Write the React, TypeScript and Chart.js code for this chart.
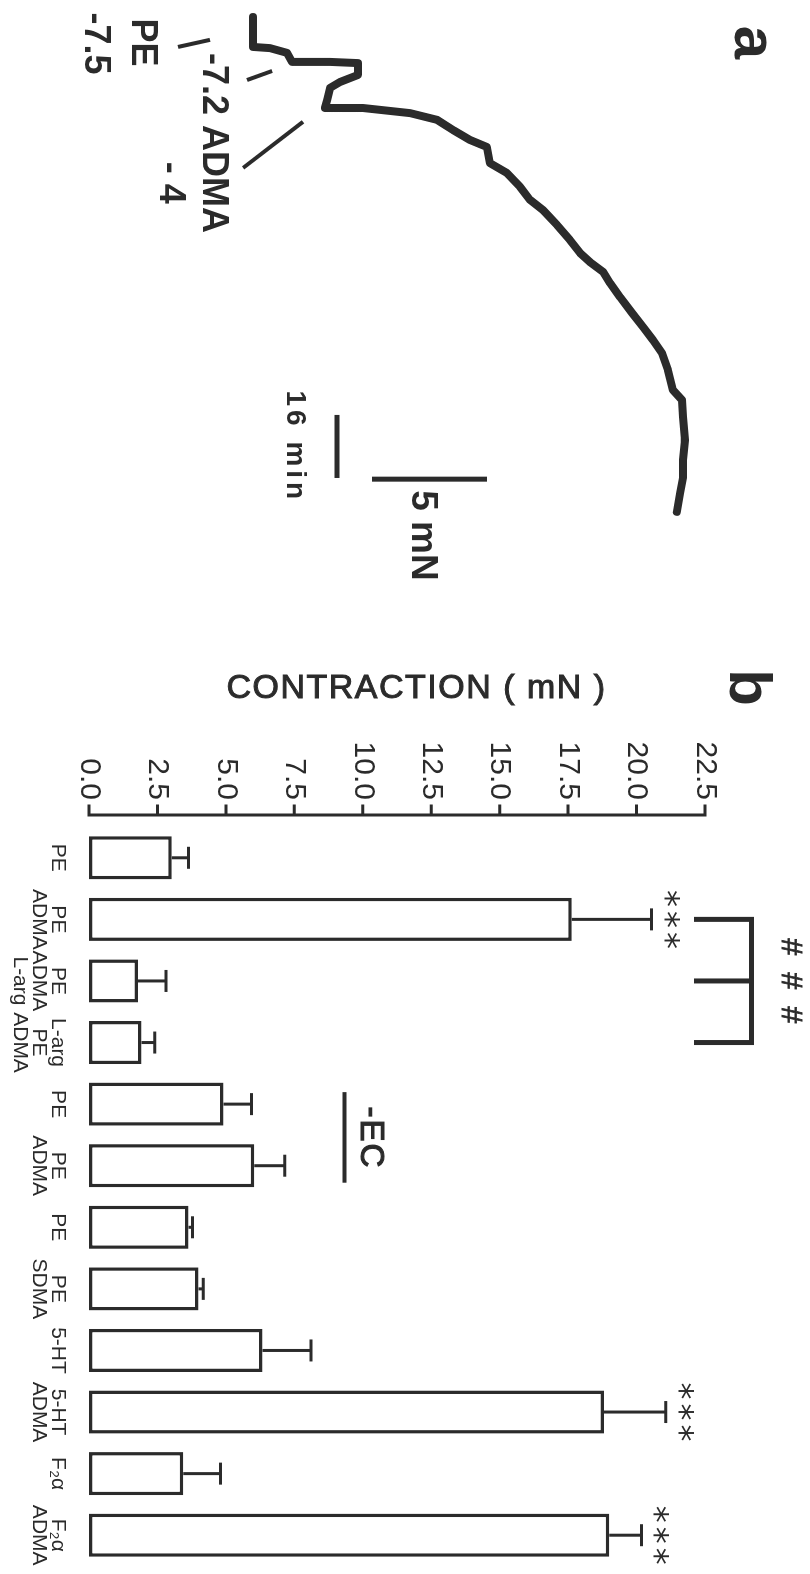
import React, { useEffect, useRef } from "react";
import { Chart, registerables } from "chart.js";

Chart.register(...registerables);

const FONT = "'Liberation Sans', Arial, Helvetica, sans-serif";
const INK = "#2b2b2b";

// ---------------- Panel a : isometric tension trace ----------------
// time in minutes, tension in mN (relative to resting baseline)
const traceMinutes = [
  0, 7.6, 7.9, 9.1, 11.4, 11.4, 11.7, 14.7, 16.5, 18.0,
  21.1, 23.1, 23.1, 24.4, 26.1, 28.7, 31.2, 33.0, 37.1, 39.6,
  43.1, 46.4, 49.0, 52.8, 56.6, 59.9, 62.2, 64.7, 67.5, 71.1,
  75.1, 78.7, 82.0, 85.3, 89.6, 94.7, 97.2, 101.5, 107.4, 112.4,
  116.8, 120.8, 125.6,
];
const traceTension = [
  0, 0, 0.74, 1.48, 1.7, 3.35, 4.57, 4.57, 3.78, 3.35,
  3.22, 3.13, 4.78, 6.83, 8.0, 8.7, 9.43, 10.17, 10.3, 11.04,
  11.61, 12.04, 12.61, 13.22, 13.78, 14.22, 14.65, 15.22, 15.52, 15.96,
  16.48, 16.96, 17.39, 17.78, 18.04, 18.26, 18.65, 18.7, 18.78, 18.7,
  18.7, 18.57, 18.43,
];
const timeBar = { start: 101.0, minutes: 16, level: 3.65 };
const forceBar = { at: 117.3, start: 5.17, mN: 5 };
const traceAxisX = { min: -4.315, max: 147.97 };
const traceAxisY = { min: -11.0, max: 24.217 };

// annotation labels of panel a (t = minutes, f = mN, at text baseline)
const panelATexts = [
  { text: "a", t: 6.47, f: 20.96, size: 60, align: "center", spacing: 0 },
  { text: "PE", t: 6.47, f: -5.26, size: 36, align: "center", spacing: 0 },
  { text: "-7.5", t: 6.73, f: -7.3, size: 36, align: "center", spacing: 0 },
  { text: "-7.2 ADMA", t: 9.14, f: -2.17, size: 36, align: "left", spacing: 0 },
  { text: "- 4", t: 42.1, f: -4.04, size: 36, align: "center", spacing: 0 },
  { text: "16 min", t: 109.1, f: 1.48, size: 28, align: "center", spacing: 4 },
  { text: "5 mN", t: 120.1, f: 6.91, size: 37, align: "left", spacing: 0 },
];
const panelAPointers = [
  [[7.6, -3.26], [5.8, -1.87]],
  [[16.0, -0.26], [13.7, 0.83]],
  [[38.3, -0.43], [26.6, 2.17]],
];

// ---------------- Panel b : bar chart ----------------
const groupLabels = [
  ["PE"],
  ["PE", "ADMA"],
  ["PE", "ADMA", "L-arg"],
  ["L-arg", "PE", "ADMA"],
  ["PE"],
  ["PE", "ADMA"],
  ["PE"],
  ["PE", "SDMA"],
  ["5-HT"],
  ["5-HT", "ADMA"],
  ["F₂α"],
  ["F₂α", "ADMA"],
];
const meanContraction = [3.02, 17.63, 1.79, 1.92, 4.91, 6.04, 3.63, 4.0, 6.34, 18.81, 3.44, 19.0];
const semContraction = [0.61, 2.92, 1.02, 0.48, 1.03, 1.11, 0.15, 0.17, 1.77, 2.26, 1.36, 1.18];
const vsControl = ["", "***", "", "", "", "", "", "", "", "***", "", "***"];
const yMax = 22.5;
const yStep = 2.5;
const hashGroup = [1, 2, 3]; // ### bracket
const ecGroup = [4, 5]; // -EC (endothelium removed)

function fillCentered(ctx: CanvasRenderingContext2D, text: string, cx: number, cy: number, stroke = 0) {
  ctx.textAlign = "center";
  ctx.textBaseline = "alphabetic";
  const m = ctx.measureText(text);
  const asc = m.actualBoundingBoxAscent;
  const desc = m.actualBoundingBoxDescent;
  const by = cy + (asc - desc) / 2;
  ctx.fillText(text, cx, by);
  if (stroke > 0) {
    ctx.lineWidth = stroke;
    ctx.strokeText(text, cx, by);
  }
}

const panelAPlugin = {
  id: "panelA",
  afterDraw(chart: any) {
    const { ctx, scales } = chart;
    const X = scales.x;
    const Y = scales.y;
    ctx.save();
    ctx.strokeStyle = INK;
    ctx.fillStyle = INK;
    ctx.lineCap = "butt";
    ctx.lineWidth = 4;
    panelAPointers.forEach((seg) => {
      ctx.beginPath();
      ctx.moveTo(X.getPixelForValue(seg[0][0]), Y.getPixelForValue(seg[0][1]));
      ctx.lineTo(X.getPixelForValue(seg[1][0]), Y.getPixelForValue(seg[1][1]));
      ctx.stroke();
    });
    ctx.lineWidth = 5;
    ctx.beginPath();
    ctx.moveTo(X.getPixelForValue(timeBar.start), Y.getPixelForValue(timeBar.level));
    ctx.lineTo(X.getPixelForValue(timeBar.start + timeBar.minutes), Y.getPixelForValue(timeBar.level));
    ctx.moveTo(X.getPixelForValue(forceBar.at), Y.getPixelForValue(forceBar.start));
    ctx.lineTo(X.getPixelForValue(forceBar.at), Y.getPixelForValue(forceBar.start + forceBar.mN));
    ctx.stroke();
    panelATexts.forEach((l) => {
      ctx.font = `bold ${l.size}px ${FONT}`;
      (ctx as any).letterSpacing = `${l.spacing}px`;
      ctx.textAlign = l.align;
      ctx.textBaseline = "alphabetic";
      ctx.fillText(l.text, X.getPixelForValue(l.t), Y.getPixelForValue(l.f));
    });
    ctx.restore();
  },
};

const panelBPlugin = {
  id: "panelB",
  afterDraw(chart: any) {
    const { ctx, chartArea, scales } = chart;
    const X = scales.x;
    const Y = scales.y;
    ctx.save();
    ctx.strokeStyle = INK;
    ctx.fillStyle = INK;

    // value axis line with ticks
    const ax = chartArea.left - 12;
    ctx.lineWidth = 3;
    ctx.lineCap = "square";
    ctx.beginPath();
    ctx.moveTo(ax, Y.getPixelForValue(0));
    ctx.lineTo(ax, Y.getPixelForValue(yMax));
    Y.ticks.forEach((t: any) => {
      const py = Y.getPixelForValue(t.value);
      ctx.moveTo(ax - 9, py);
      ctx.lineTo(ax, py);
    });
    ctx.stroke();

    // error bars + significance
    ctx.lineCap = "butt";
    meanContraction.forEach((m, i) => {
      const px = X.getPixelForValue(i);
      const p0 = Y.getPixelForValue(m);
      const p1 = Y.getPixelForValue(m + semContraction[i]);
      ctx.lineWidth = 3;
      ctx.beginPath();
      ctx.moveTo(px, p0);
      ctx.lineTo(px, p1);
      ctx.moveTo(px - 11, p1);
      ctx.lineTo(px + 11, p1);
      ctx.stroke();
      if (vsControl[i]) {
        ctx.font = `34px 'DejaVu Sans', ${FONT}`;
        (ctx as any).letterSpacing = "0px";
        for (let k = 0; k < vsControl[i].length; k++) {
          fillCentered(ctx, "*", px + (k - 1) * 21, p1 - 20);
        }
      }
    });

    // ### bracket
    const bx = hashGroup.map((i) => X.getPixelForValue(i));
    const topY = Y.getPixelForValue(24.2);
    const armY = Y.getPixelForValue(22.1);
    ctx.lineWidth = 5;
    ctx.lineJoin = "miter";
    ctx.beginPath();
    ctx.moveTo(bx[0], armY);
    ctx.lineTo(bx[0], topY);
    ctx.lineTo(bx[2], topY);
    ctx.lineTo(bx[2], armY);
    ctx.moveTo(bx[1], topY);
    ctx.lineTo(bx[1], armY);
    ctx.stroke();
    ctx.font = `30px ${FONT}`;
    (ctx as any).letterSpacing = "0px";
    for (let k = 0; k < 3; k++) {
      fillCentered(ctx, "#", bx[1] + (k - 1) * 34, Y.getPixelForValue(25.68), 0.8);
    }

    // -EC
    const e0 = X.getPixelForValue(ecGroup[0]);
    const e1 = X.getPixelForValue(ecGroup[1]);
    const ecY = Y.getPixelForValue(9.33);
    ctx.lineWidth = 4;
    ctx.beginPath();
    ctx.moveTo(e0 - 12, ecY);
    ctx.lineTo(e1 + 17, ecY);
    ctx.stroke();
    ctx.font = `33px ${FONT}`;
    (ctx as any).letterSpacing = "2px";
    fillCentered(ctx, "-EC", (e0 + e1) / 2 + 3, Y.getPixelForValue(10.37), 1.2);

    // axis title
    ctx.save();
    ctx.translate(chartArea.left - 138, (chartArea.top + chartArea.bottom) / 2 - 19.5);
    ctx.rotate(-Math.PI / 2);
    ctx.font = `34px ${FONT}`;
    (ctx as any).letterSpacing = "1.5px";
    ctx.textAlign = "center";
    ctx.textBaseline = "middle";
    ctx.fillText("CONTRACTION ( mN )", 0, 0);
    ctx.lineWidth = 1;
    ctx.strokeText("CONTRACTION ( mN )", 0, 0);
    ctx.restore();

    // panel letter
    ctx.font = `bold 60px ${FONT}`;
    (ctx as any).letterSpacing = "0px";
    ctx.textAlign = "center";
    ctx.textBaseline = "alphabetic";
    ctx.fillText("b", chartArea.left - 139.5, 80);
    ctx.restore();
  },
};

export default function App() {
  const aRef = useRef<HTMLCanvasElement | null>(null);
  const bRef = useRef<HTMLCanvasElement | null>(null);

  useEffect(() => {
    Chart.defaults.font.family = FONT;
    Chart.defaults.color = INK;

    const chartA = new Chart(aRef.current as HTMLCanvasElement, {
      type: "scatter",
      data: {
        datasets: [
          {
            data: traceMinutes.map((t, i) => ({ x: t, y: traceTension[i] })),
            showLine: true,
            borderColor: INK,
            backgroundColor: INK,
            borderWidth: 8,
            pointRadius: 0,
            borderJoinStyle: "round",
            borderCapStyle: "round",
            tension: 0,
          } as any,
        ],
      },
      options: {
        responsive: false,
        animation: false,
        devicePixelRatio: 1,
        layout: { padding: 0 },
        plugins: { legend: { display: false }, tooltip: { enabled: false } },
        scales: {
          x: { type: "linear", display: false, min: traceAxisX.min, max: traceAxisX.max },
          y: { type: "linear", display: false, min: traceAxisY.min, max: traceAxisY.max },
        },
      },
      plugins: [panelAPlugin as any],
    });

    const chartB = new Chart(bRef.current as HTMLCanvasElement, {
      type: "bar",
      data: {
        labels: groupLabels as any,
        datasets: [
          {
            data: meanContraction,
            backgroundColor: "#ffffff",
            borderColor: INK,
            borderWidth: 3.5,
            borderSkipped: false,
            barPercentage: 0.7,
            categoryPercentage: 1.0,
          } as any,
        ],
      },
      options: {
        responsive: false,
        animation: false,
        devicePixelRatio: 1,
        layout: { padding: { top: 105, right: 8, left: 0, bottom: 0 } },
        plugins: { legend: { display: false }, tooltip: { enabled: false } },
        scales: {
          x: {
            type: "category",
            offset: true,
            grid: { display: false, drawTicks: false },
            border: { display: false },
            ticks: {
              color: INK,
              font: { family: FONT, size: 21, lineHeight: 0.9 },
              padding: 22,
              maxRotation: 0,
              minRotation: 0,
              autoSkip: false,
            },
            afterFit: (s: any) => {
              s.height = 89;
              s.paddingLeft = 0;
              s.paddingRight = 0;
            },
          },
          y: {
            min: 0,
            max: yMax,
            grid: { display: false, drawTicks: false },
            border: { display: false },
            ticks: {
              stepSize: yStep,
              color: INK,
              font: { family: FONT, size: 30 },
              padding: 27,
              callback: (v: any) => Number(v).toFixed(1),
            },
            afterFit: (s: any) => {
              s.width = 267;
              s.paddingTop = 0;
              s.paddingBottom = 0;
            },
          },
        },
      },
      plugins: [panelBPlugin as any],
    });

    return () => {
      chartA.destroy();
      chartB.destroy();
    };
  }, []);

  return (
    <div
      style={{
        position: "absolute",
        left: 0,
        top: 0,
        width: 810,
        height: 1574,
        overflow: "hidden",
        background: "#ffffff",
      }}
    >
      <div
        style={{
          position: "absolute",
          left: 0,
          top: 0,
          width: 1574,
          height: 810,
          transformOrigin: "0 0",
          transform: "translate(810px, 0px) rotate(90deg)",
        }}
      >
        <canvas
          ref={aRef}
          width={600}
          height={810}
          style={{ position: "absolute", left: 0, top: 0, display: "block" }}
        />
        <canvas
          ref={bRef}
          width={1014}
          height={810}
          style={{ position: "absolute", left: 560, top: 0, display: "block" }}
        />
      </div>
    </div>
  );
}
